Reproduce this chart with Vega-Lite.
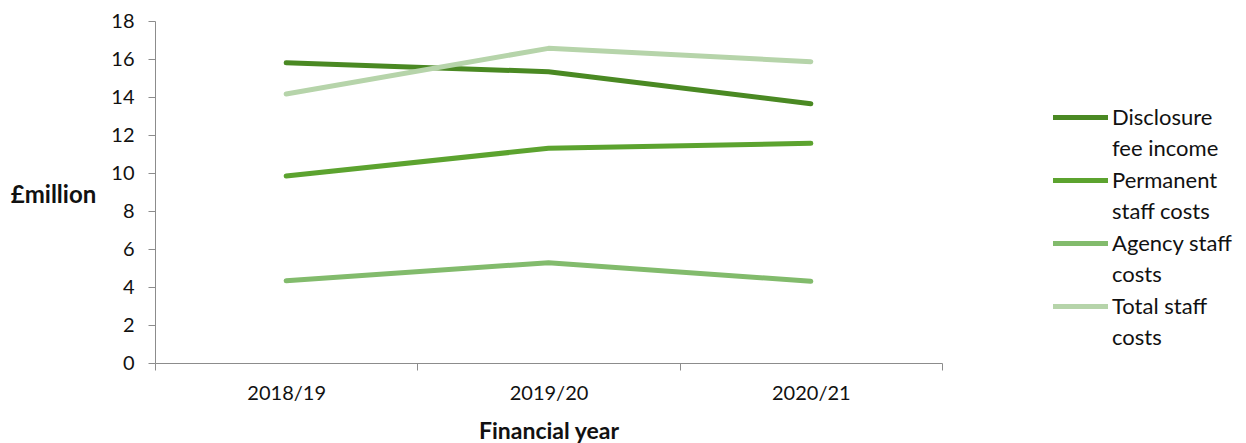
{
  "$schema": "https://vega.github.io/schema/vega-lite/v6.json",
  "width": 787,
  "height": 342,
  "autosize": {"type": "none"},
  "padding": {"left": 155, "top": 21, "right": 304, "bottom": 80},
  "background": "white",
  "config": {
    "font": "Lato",
    "view": {"stroke": null},
    "style": {"guide-label": {"lineHeight": 31}},
    "axis": {"domainColor": "#8c8c8c", "tickColor": "#8c8c8c", "grid": false, "labelColor": "#111", "titleColor": "#111", "labelFont": "Lato", "titleFont": "Lato"}
  },
  "data": {
    "values": [
      {"year": "2018/19", "series": "Disclosure fee income", "value": 15.8},
      {"year": "2019/20", "series": "Disclosure fee income", "value": 15.33},
      {"year": "2020/21", "series": "Disclosure fee income", "value": 13.65},
      {"year": "2018/19", "series": "Permanent staff costs", "value": 9.84},
      {"year": "2019/20", "series": "Permanent staff costs", "value": 11.3},
      {"year": "2020/21", "series": "Permanent staff costs", "value": 11.56},
      {"year": "2018/19", "series": "Agency staff costs", "value": 4.33},
      {"year": "2019/20", "series": "Agency staff costs", "value": 5.28},
      {"year": "2020/21", "series": "Agency staff costs", "value": 4.3},
      {"year": "2018/19", "series": "Total staff costs", "value": 14.16},
      {"year": "2019/20", "series": "Total staff costs", "value": 16.56},
      {"year": "2020/21", "series": "Total staff costs", "value": 15.86}
    ]
  },
  "mark": {"type": "line", "strokeWidth": 5, "strokeCap": "round", "strokeJoin": "round"},
  "encoding": {
    "x": {
      "field": "year", "type": "ordinal",
      "scale": {"type": "band", "paddingInner": 0, "paddingOuter": 0},
      "axis": {"title": "Financial year", "labelAngle": 0, "tickBand": "extent", "tickSize": 7, "labelFontSize": 20, "labelPadding": 13, "titleFontSize": 23, "titleFontWeight": "bold", "titlePadding": 17}
    },
    "y": {
      "field": "value", "type": "quantitative",
      "scale": {"domain": [0, 18], "nice": false},
      "axis": {"title": "£million", "values": [0,2,4,6,8,10,12,14,16,18], "tickSize": 7, "labelFontSize": 20, "labelPadding": 14, "titleAngle": 0, "titleFontSize": 24, "titleFontWeight": "bold", "titleX": -102, "titleY": 174, "titleAlign": "center", "titleBaseline": "middle"}
    },
    "color": {
      "field": "series", "type": "nominal",
      "scale": {"domain": ["Disclosure fee income", "Permanent staff costs", "Agency staff costs", "Total staff costs"], "range": ["#4a8923", "#5ca32f", "#82bb6c", "#b6d4aa"]},
      "legend": {
        "title": null, "orient": "none", "legendX": 909, "legendY": 80,
        "symbolType": "M-2,0H2", "symbolSize": 756, "symbolStrokeWidth": 5,
        "labelFontSize": 22, "labelLimit": 300, "labelBaseline": "middle", "rowPadding": 4,
        "labelOffset": 15, "labelColor": "#111",
        "labelExpr": "datum.label == 'Disclosure fee income' ? ['Disclosure', 'fee income'] : datum.label == 'Permanent staff costs' ? ['Permanent', 'staff costs'] : datum.label == 'Agency staff costs' ? ['Agency staff', 'costs'] : ['Total staff', 'costs']"
      }
    }
  }
}
